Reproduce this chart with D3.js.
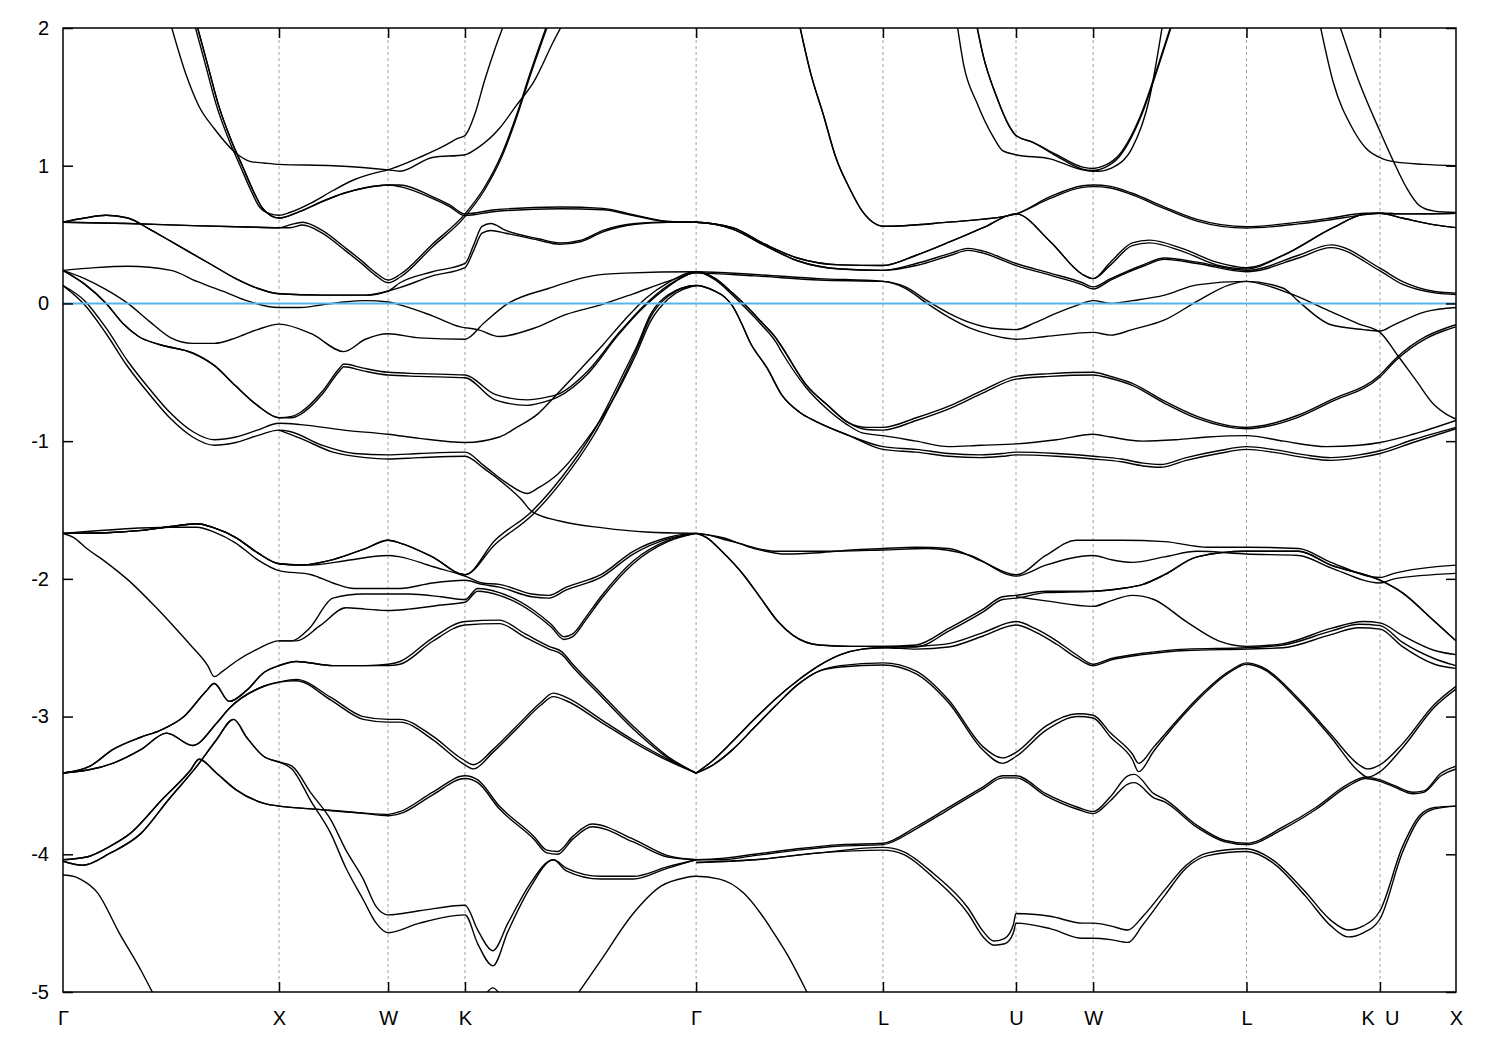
<!DOCTYPE html>
<html><head><meta charset="utf-8">
<script src="https://cdn.jsdelivr.net/npm/d3@7"></script>
<style>body{margin:0;background:#fff}svg{display:block}text{font-family:"Liberation Sans",Arial,sans-serif}</style>
</head><body>
<svg id="chart" width="1500" height="1050"></svg>
<script>
// ---- high-symmetry path (K|U is a path discontinuity, labelled once) ----
const kTicks  = [0, 1.0, 1.505, 1.861, 2.931, 3.796, 4.412, 4.769, 5.479, 6.097, 6.449];
const kLabels = ["Γ","X","W","K","Γ","L","U","W","L","K\u2002U","X"];
const gridK   = [1.0, 1.505, 1.861, 2.931, 3.796, 4.412, 4.769, 5.479, 6.097];
const yTicks  = [2, 1, 0, -1, -2, -3, -4, -5];
const fermiLevel = 0;

// ---- bands: [k, E(eV), split of twin line] ----
const T1 = [[0.50,2.02],[0.57,1.66],[0.63,1.43],[0.70,1.27],[0.81,1.08],[0.87,1.03],[0.93,1.02],[1.0,1.01],[1.25,1.0],[1.505,0.97],[1.56,0.96],[1.71,1.06],[1.861,1.08],[1.92,1.13],[2.02,1.27],[2.10,1.44],[2.18,1.61],[2.27,1.90],[2.31,2.02]];
const T2a = [[0.61,2.02],[0.66,1.73],[0.71,1.44],[0.77,1.18],[0.82,1.0],[0.87,0.82],[0.91,0.70],[0.96,0.65],[1.0,0.64],[1.05,0.66],[1.15,0.73],[1.25,0.82],[1.35,0.90],[1.45,0.95],[1.505,0.97],[1.56,1.0],[1.65,1.06],[1.76,1.14],[1.83,1.20],[1.861,1.22],[1.91,1.39],[1.95,1.61],[2.0,1.85],[2.04,2.02]];
const T2b = [[0.62,2.02],[0.67,1.73],[0.72,1.44],[0.78,1.18],[0.83,1.0],[0.88,0.82],[0.92,0.70],[0.96,0.64],[1.0,0.62],[1.1,0.67],[1.2,0.74],[1.3,0.80],[1.4,0.84],[1.505,0.86],[1.56,0.86,0.012],[1.71,0.775,0.012],[1.79,0.715,0.012],[1.861,0.65,0.012],[2.0,0.68,0.012],[2.3,0.70,0.012],[2.5,0.69,0.01],[2.65,0.64,0.005],[2.8,0.595,0],[2.931,0.59,0],[3.1,0.55,0],[3.25,0.43,0],[3.40,0.33,0],[3.60,0.28,0],[3.796,0.275,0],[3.95,0.35,0],[4.11,0.45,0],[4.26,0.55,0],[4.412,0.65,0],[4.57,0.45,0],[4.72,0.21,0],[4.769,0.18,0],[4.85,0.30,0.02],[4.95,0.44,0.02],[5.03,0.46,0.02],[5.18,0.40,0.02],[5.34,0.30,0.02],[5.479,0.26,0.01],[5.65,0.35,0],[5.88,0.55,0],[6.03,0.65,0],[6.097,0.655,0],[6.2,0.62,0],[6.35,0.57,0],[6.449,0.55,0]];
const T3 = [[0,0.59],[0.3,0.58],[0.6,0.565],[0.85,0.555],[1.0,0.55],[1.05,0.57,0.02],[1.11,0.59,0.02],[1.20,0.53,0.02],[1.31,0.40,0.02],[1.39,0.30,0.02],[1.45,0.22,0.02],[1.505,0.17,0.02],[1.56,0.21,0.02],[1.71,0.43,0.02],[1.861,0.65,0.02],[1.95,0.84,0.02],[2.03,1.08,0.02],[2.10,1.37,0.02],[2.16,1.66,0.02],[2.24,2.02,0.02]];
const T4 = [[0,0.59],[0.1,0.62],[0.2,0.64],[0.3,0.62],[0.4,0.54],[0.5,0.45],[0.6,0.36],[0.7,0.27],[0.8,0.18],[0.9,0.11],[1.0,0.07],[1.2,0.06],[1.4,0.06],[1.505,0.09],[1.56,0.15,0.035],[1.71,0.23,0.03],[1.861,0.29,0.03],[1.90,0.42,0.04],[1.94,0.56,0.05],[1.98,0.58,0.05],[2.05,0.53,0.02],[2.20,0.47,0.01],[2.30,0.44,0.01],[2.40,0.46,0.01],[2.50,0.53,0.01],[2.65,0.58,0.005],[2.80,0.59,0],[2.931,0.59,0],[3.1,0.54,0],[3.25,0.42,0],[3.40,0.31,0],[3.60,0.25,0],[3.796,0.24,0],[3.95,0.29,0.015],[4.11,0.365,0.015],[4.19,0.40,0.015],[4.26,0.38,0.015],[4.412,0.29,0.015],[4.57,0.22,0.015],[4.72,0.15,0.015],[4.769,0.12,0.015],[4.85,0.18,0.01],[5.0,0.28,0.01],[5.10,0.33,0.01],[5.25,0.30,0.01],[5.479,0.24,0.01],[5.72,0.35,0.02],[5.87,0.425,0.02],[6.097,0.256,0.02],[6.2,0.16,0.02],[6.35,0.087,0.01],[6.449,0.075,0.01]];
const G1 = [[0,0.24],[0.15,0.26],[0.3,0.27],[0.5,0.24],[0.62,0.16],[0.77,0.07],[0.85,0.02],[1.0,-0.03],[1.1,-0.03],[1.2,-0.01],[1.3,0.01],[1.4,0.02],[1.505,0.01],[1.56,-0.01],[1.71,-0.09],[1.84,-0.17],[1.92,-0.19],[2.02,-0.24],[2.18,-0.18],[2.33,-0.08],[2.49,-0.01],[2.64,0.07],[2.80,0.16],[2.931,0.22],[3.2,0.20],[3.5,0.17],[3.796,0.16],[3.90,0.12],[4.0,0.02],[4.1,-0.07],[4.2,-0.14],[4.3,-0.18],[4.412,-0.19],[4.50,-0.14],[4.6,-0.07],[4.7,-0.01],[4.769,0.02],[4.85,0.0],[4.95,0.02],[5.1,0.06],[5.25,0.135],[5.479,0.16],[5.65,0.11],[5.72,0.015],[5.87,-0.155],[6.02,-0.19],[6.097,-0.20],[6.162,-0.155],[6.31,-0.06],[6.449,-0.03]];
const G3 = [[0,0.24],[0.1,0.18],[0.2,0.10],[0.3,0.0],[0.4,-0.13],[0.5,-0.25],[0.6,-0.29],[0.7,-0.29],[0.8,-0.25],[0.9,-0.19],[1.0,-0.15],[1.15,-0.22],[1.3,-0.35],[1.4,-0.26],[1.505,-0.22],[1.65,-0.25],[1.861,-0.26],[1.95,-0.14],[2.05,-0.01],[2.25,0.11],[2.45,0.20],[2.6,0.22],[2.931,0.23],[3.2,0.21],[3.5,0.18],[3.796,0.16],[3.9,0.11],[4.0,0.0],[4.1,-0.10],[4.2,-0.18],[4.3,-0.23],[4.412,-0.26],[4.55,-0.24],[4.769,-0.21],[4.85,-0.23],[4.95,-0.19],[5.1,-0.12],[5.25,0.015],[5.40,0.135],[5.479,0.16],[5.55,0.14],[5.70,0.06],[5.87,-0.06],[6.0,-0.15],[6.097,-0.21],[6.18,-0.38],[6.26,-0.55],[6.35,-0.74],[6.40,-0.80],[6.449,-0.84]];
const H2 = [[0,0.24],[0.1,0.14],[0.2,0.0],[0.28,-0.15],[0.35,-0.24],[0.45,-0.30],[0.6,-0.36],[0.7,-0.45],[0.8,-0.60],[0.9,-0.74],[1.0,-0.83,0],[1.06,-0.82,0.01],[1.1,-0.79,0.015],[1.2,-0.64,0.02],[1.28,-0.47,0.02],[1.30,-0.44,0.02],[1.39,-0.47,0.02],[1.505,-0.50,0.02],[1.65,-0.51,0.02],[1.861,-0.52,0.02],[2.0,-0.66,0.04],[2.15,-0.70,0.04],[2.24,-0.68,0.03],[2.29,-0.66,0.02],[2.43,-0.49,0.02],[2.57,-0.22,0.01],[2.70,0.0,0.01],[2.80,0.13,0.01],[2.88,0.20,0],[2.931,0.23,0],[3.02,0.18,0],[3.10,0.075,0],[3.17,-0.03,0],[3.23,-0.13,0],[3.30,-0.25,0],[3.33,-0.32,0],[3.44,-0.59,0],[3.54,-0.74,0],[3.63,-0.86,0],[3.72,-0.90,0.015],[3.796,-0.90,0.02],[3.95,-0.83,0.02],[4.11,-0.74,0.02],[4.26,-0.63,0.02],[4.412,-0.53,0.02],[4.57,-0.51,0.02],[4.769,-0.50,0.02],[4.85,-0.53,0.015],[4.95,-0.58,0.015],[5.1,-0.71,0.015],[5.25,-0.82,0.015],[5.479,-0.90,0.01],[5.72,-0.81,0.015],[5.87,-0.70,0.015],[6.097,-0.52,0.015],[6.17,-0.40,0.015],[6.31,-0.24,0.015],[6.40,-0.18,0.015],[6.449,-0.155,0.015]];
const H1a = [[0,0.13],[0.1,0.02],[0.2,-0.18],[0.3,-0.42],[0.4,-0.62],[0.5,-0.80],[0.6,-0.93],[0.7,-0.99],[0.8,-0.97],[0.9,-0.92],[1.0,-0.87],[1.1,-0.88],[1.3,-0.92],[1.505,-0.95],[1.65,-0.98],[1.861,-1.01],[2.02,-0.97],[2.10,-0.90],[2.20,-0.80],[2.28,-0.67],[2.40,-0.47],[2.50,-0.30],[2.60,-0.12],[2.70,0.04],[2.80,0.15],[2.931,0.23],[3.02,0.17],[3.10,0.06],[3.17,-0.05],[3.23,-0.15],[3.30,-0.28],[3.33,-0.36],[3.44,-0.61],[3.54,-0.77],[3.63,-0.88],[3.70,-0.94],[3.796,-0.96],[3.95,-1.0],[4.1,-1.04],[4.25,-1.03],[4.412,-1.02],[4.6,-0.99],[4.769,-0.95],[4.85,-0.97],[5.0,-1.00],[5.15,-0.99],[5.3,-0.97],[5.479,-0.96],[5.65,-1.0],[5.85,-1.04],[6.0,-1.03],[6.097,-1.01],[6.25,-0.95],[6.449,-0.85]];
const H1b = [[0,0.13],[0.1,-0.01],[0.2,-0.22],[0.3,-0.46],[0.4,-0.66],[0.5,-0.84],[0.6,-0.97],[0.7,-1.03],[0.8,-1.01],[0.9,-0.96],[1.0,-0.92],[1.05,-0.93],[1.2,-1.03],[1.35,-1.09],[1.505,-1.10],[1.65,-1.09],[1.861,-1.08],[1.95,-1.18],[2.05,-1.30],[2.15,-1.38],[2.2,-1.34],[2.29,-1.24],[2.41,-1.02],[2.56,-0.66],[2.65,-0.38],[2.72,-0.13],[2.80,0.03],[2.931,0.13]];
const H1c = [[1.0,-0.92],[1.1,-0.98],[1.25,-1.08],[1.40,-1.12],[1.505,-1.13],[1.65,-1.12],[1.861,-1.11],[1.95,-1.20],[2.05,-1.32],[2.12,-1.42],[2.17,-1.51],[2.3,-1.58],[2.5,-1.63],[2.7,-1.66],[2.931,-1.67]];
const Phi1 = [[0,-1.67],[0.2,-1.665],[0.35,-1.65],[0.50,-1.62],[0.62,-1.60],[0.70,-1.63],[0.80,-1.70],[0.90,-1.81],[1.0,-1.89],[1.1,-1.90],[1.25,-1.86],[1.40,-1.78],[1.505,-1.72],[1.56,-1.74],[1.71,-1.84],[1.861,-1.97],[2.0,-1.72,0.03],[2.17,-1.51,0.03],[2.31,-1.26,0.03],[2.46,-0.92,0.03],[2.61,-0.46,0.03],[2.66,-0.30,0.02],[2.72,-0.08,0.02],[2.80,0.06,0.01],[2.931,0.13,0],[3.02,0.087],[3.06,0.05],[3.10,-0.02],[3.14,-0.14],[3.18,-0.28],[3.26,-0.47],[3.33,-0.67],[3.41,-0.79],[3.49,-0.86],[3.64,-0.96],[3.796,-1.04,0.02],[3.95,-1.06,0.02],[4.1,-1.09,0.02],[4.25,-1.10,0.02],[4.35,-1.09,0.02],[4.412,-1.08,0.02],[4.6,-1.09,0.02],[4.769,-1.11,0.02],[4.9,-1.13,0.02],[5.0,-1.16,0.02],[5.08,-1.17,0.02],[5.2,-1.12,0.02],[5.35,-1.07,0.02],[5.479,-1.04,0.02],[5.6,-1.06,0.02],[5.75,-1.10,0.02],[5.87,-1.12,0.02],[6.0,-1.10,0.02],[6.097,-1.07,0.02],[6.25,-0.99,0.02],[6.449,-0.90,0.01]];
const Phi2 = [[0,-1.67],[0.2,-1.665],[0.35,-1.65],[0.50,-1.62],[0.62,-1.60],[0.70,-1.63],[0.80,-1.70],[0.90,-1.81],[1.0,-1.89],[1.15,-1.90],[1.3,-1.87],[1.505,-1.83],[1.56,-1.84],[1.71,-1.91],[1.861,-1.98],[1.94,-2.03],[2.02,-2.04],[2.17,-2.11],[2.25,-2.12],[2.33,-2.06],[2.49,-1.97],[2.64,-1.80],[2.80,-1.70],[2.931,-1.67],[3.1,-1.73],[3.3,-1.80],[3.5,-1.80],[3.796,-1.79],[4.0,-1.78],[4.2,-1.83],[4.412,-1.98],[4.55,-1.90],[4.769,-1.83],[4.85,-1.86],[4.95,-1.88],[5.1,-1.84],[5.25,-1.80],[5.479,-1.82],[5.72,-1.83],[5.87,-1.92],[6.097,-2.03],[6.162,-2.0],[6.449,-1.96]];
const Phi3 = [[0,-1.67],[0.5,-1.625],[0.62,-1.625],[0.70,-1.66],[0.80,-1.74],[0.90,-1.86],[1.0,-1.94],[1.15,-1.97],[1.25,-2.03],[1.35,-2.07],[1.505,-2.07],[1.56,-2.07],[1.71,-2.03],[1.861,-2.01],[1.94,-2.04],[2.02,-2.06],[2.17,-2.13],[2.25,-2.14],[2.33,-2.08],[2.49,-1.99],[2.64,-1.82],[2.80,-1.71],[2.931,-1.67]];
const Gi = [[0,-1.67],[0.05,-1.70],[0.11,-1.78],[0.2,-1.88],[0.31,-2.02],[0.42,-2.19],[0.51,-2.34],[0.59,-2.48],[0.67,-2.63],[0.70,-2.71],[0.74,-2.67],[0.80,-2.60],[0.90,-2.51],[1.0,-2.45],[1.06,-2.45],[1.14,-2.36],[1.25,-2.14],[1.39,-2.11],[1.505,-2.11],[1.6,-2.11],[1.75,-2.13],[1.861,-2.15],[1.92,-2.07],[2.02,-2.10],[2.18,-2.23],[2.26,-2.33],[2.32,-2.42],[2.36,-2.40],[2.42,-2.28],[2.49,-2.13],[2.64,-1.87],[2.80,-1.72],[2.931,-1.67]];
const Gib = [[1.0,-2.45],[1.08,-2.45],[1.19,-2.34],[1.31,-2.21],[1.40,-2.22],[1.505,-2.23],[1.6,-2.22],[1.75,-2.19],[1.861,-2.17],[1.92,-2.09],[2.02,-2.12],[2.18,-2.25],[2.26,-2.35],[2.32,-2.44],[2.36,-2.42],[2.42,-2.30],[2.49,-2.15],[2.64,-1.89],[2.80,-1.73],[2.931,-1.67]];
const Gii = [[0,-3.41],[0.125,-3.36],[0.23,-3.24],[0.36,-3.15],[0.45,-3.10],[0.56,-3.0],[0.66,-2.82],[0.70,-2.76],[0.77,-2.89],[0.85,-2.81],[0.93,-2.68],[1.0,-2.63],[1.08,-2.60],[1.25,-2.63],[1.40,-2.63],[1.505,-2.62,0.01],[1.56,-2.60,0.02],[1.71,-2.43,0.025],[1.861,-2.31,0.025],[2.02,-2.30,0.025],[2.14,-2.40,0.025],[2.25,-2.49,0.02],[2.31,-2.53,0.02],[2.36,-2.62,0.02],[2.49,-2.83,0.02],[2.64,-3.07,0.02],[2.80,-3.29,0.01],[2.931,-3.41,0]];
const Giii = [[0,-3.41],[0.23,-3.34],[0.36,-3.24],[0.48,-3.12],[0.60,-3.21],[0.71,-3.05],[0.77,-2.94],[0.93,-2.78],[1.0,-2.75],[1.08,-2.73,0.01],[1.24,-2.86,0.02],[1.39,-3.0,0.02],[1.505,-3.02,0.02],[1.56,-3.02,0.02],[1.71,-3.14,0.025],[1.85,-3.31,0.03],[1.90,-3.35,0.03],[1.99,-3.24,0.02],[2.10,-3.07,0.02],[2.21,-2.90,0.02],[2.27,-2.83,0.025],[2.33,-2.86,0.025],[2.49,-3.02,0.02],[2.64,-3.17,0.015],[2.80,-3.31,0.01],[2.931,-3.41,0]];
const Giv = [[0,-4.04],[0.11,-4.02],[0.22,-3.94],[0.31,-3.85],[0.46,-3.60],[0.59,-3.39],[0.63,-3.31],[0.71,-3.41],[0.80,-3.53],[0.93,-3.63],[1.0,-3.65],[1.15,-3.67],[1.38,-3.70],[1.505,-3.71,0.01],[1.56,-3.69,0.015],[1.71,-3.55,0.02],[1.861,-3.43,0.02],[1.92,-3.46,0.02],[2.02,-3.65,0.02],[2.18,-3.87,0.02],[2.24,-3.97,0.02],[2.29,-3.98,0.02],[2.36,-3.87,0.02],[2.45,-3.78,0.02],[2.64,-3.89,0.02],[2.80,-4.01,0.01],[2.931,-4.04,0]];
const Gv = [[0,-4.05],[0.09,-4.08],[0.22,-3.99],[0.36,-3.85],[0.49,-3.60],[0.62,-3.36],[0.71,-3.17],[0.79,-3.02],[0.85,-3.15],[0.93,-3.29],[1.0,-3.33,0],[1.06,-3.36,0.02],[1.15,-3.56,0.06],[1.24,-3.75,0.10],[1.31,-3.97,0.13],[1.39,-4.18,0.15],[1.45,-4.38,0.12],[1.505,-4.44,0.13],[1.65,-4.41,0.09],[1.861,-4.37,0.07],[1.92,-4.55,0.10],[1.99,-4.70,0.11],[2.06,-4.50,0.06],[2.16,-4.22,0.03],[2.27,-4.04,0],[2.33,-4.10,0.02],[2.49,-4.16,0.02],[2.64,-4.16,0.02],[2.80,-4.09,0.01],[2.931,-4.04,0]];
const L1a = [[0,-4.15],[0.05,-4.16],[0.08,-4.18],[0.16,-4.28],[0.26,-4.57],[0.36,-4.84],[0.42,-5.02]];
const L1b = [[2.38,-5.02],[2.49,-4.77],[2.64,-4.43],[2.77,-4.23],[2.88,-4.17],[2.931,-4.16],[3.04,-4.18],[3.15,-4.28],[3.23,-4.43],[3.29,-4.57],[3.35,-4.72],[3.45,-5.02]];
const arcB = [[1.955,-5.02],[1.99,-4.97],[2.025,-5.02]];
const S6 = [[3.41,2.02],[3.46,1.68],[3.52,1.37],[3.58,1.05],[3.64,0.84],[3.70,0.67],[3.77,0.57],[3.796,0.56],[4.1,0.59],[4.25,0.61],[4.412,0.65],[4.57,0.775,0.012],[4.72,0.855,0.012],[4.769,0.86,0.012],[4.85,0.85,0.012],[4.95,0.80,0.012],[5.10,0.70,0.012],[5.25,0.61,0.012],[5.479,0.557,0.01],[5.72,0.59,0.012],[5.87,0.62,0.012],[6.03,0.655,0.01],[6.097,0.655,0],[6.2,0.65,0],[6.449,0.655,0]];
const S7 = [[4.14,2.02],[4.17,1.73],[4.23,1.46],[4.31,1.20],[4.35,1.11],[4.412,1.08],[4.57,1.05],[4.72,0.97],[4.769,0.96],[4.80,0.96],[4.85,0.98],[4.95,1.13],[5.03,1.49],[5.09,2.02]];
const S8 = [[4.23,2.02],[4.26,1.80],[4.32,1.51],[4.38,1.29],[4.412,1.22],[4.49,1.17],[4.60,1.08,0.01],[4.72,0.99,0.015],[4.769,0.98,0.015],[4.82,1.0,0.015],[4.89,1.08,0.015],[4.99,1.37,0.015],[5.07,1.73,0.015],[5.13,2.02,0.015]];
const RS1 = [[5.82,2.02],[5.88,1.61],[5.97,1.27],[6.03,1.13],[6.11,1.05],[6.16,1.03],[6.30,1.01],[6.449,1.0]];
const RS2 = [[5.91,2.02],[6.0,1.61],[6.097,1.25],[6.16,1.03],[6.22,0.84],[6.28,0.71],[6.35,0.67],[6.449,0.66]];
const Om1 = [[2.931,-1.67],[3.05,-1.70],[3.2,-1.78],[3.35,-1.82],[3.5,-1.81],[3.65,-1.79],[3.796,-1.78],[3.95,-1.77],[4.1,-1.78],[4.25,-1.87],[4.412,-1.97],[4.55,-1.83],[4.69,-1.72],[4.769,-1.72],[4.9,-1.72],[5.1,-1.73],[5.30,-1.77],[5.479,-1.77],[5.72,-1.78],[5.87,-1.88],[6.097,-1.99],[6.162,-1.96],[6.449,-1.90]];
const Sig1 = [[2.931,-1.67],[2.98,-1.70],[3.05,-1.80],[3.15,-1.97],[3.23,-2.14],[3.31,-2.31],[3.38,-2.41],[3.50,-2.48],[3.65,-2.49],[3.796,-2.49],[3.95,-2.48,0.015],[4.1,-2.36,0.02],[4.26,-2.22,0.02],[4.35,-2.13,0.02],[4.412,-2.12,0.02],[4.55,-2.09,0.01],[4.769,-2.09,0],[4.9,-2.07],[5.0,-2.04],[5.1,-1.97],[5.25,-1.84],[5.479,-1.80],[5.72,-1.80],[5.87,-1.90],[6.097,-2.01],[6.2,-2.10],[6.33,-2.28],[6.449,-2.45]];
const Om4 = [[4.412,-2.13],[4.55,-2.16],[4.769,-2.20],[4.85,-2.16],[4.95,-2.12],[5.05,-2.15],[5.2,-2.31],[5.35,-2.45],[5.479,-2.49],[5.65,-2.47],[5.87,-2.36],[6.02,-2.31],[6.097,-2.32],[6.2,-2.41],[6.35,-2.52],[6.449,-2.55]];
const Sig2 = [[2.931,-3.41],[3.0,-3.33],[3.1,-3.18],[3.2,-3.02],[3.3,-2.87],[3.4,-2.74],[3.5,-2.63],[3.6,-2.55],[3.7,-2.51],[3.796,-2.50],[3.95,-2.49,0.02],[4.1,-2.47,0.025],[4.26,-2.39,0.025],[4.412,-2.31,0.025],[4.5,-2.36,0.025],[4.6,-2.45,0.025],[4.7,-2.56,0.02],[4.769,-2.62,0.01],[4.85,-2.58,0.01],[5.0,-2.54,0.01],[5.2,-2.51,0.01],[5.479,-2.50,0.01],[5.65,-2.48,0.02],[5.87,-2.38,0.025],[6.0,-2.33,0.025],[6.097,-2.34,0.025],[6.2,-2.46,0.03],[6.35,-2.58,0.04],[6.449,-2.63,0.02]];
const Sig3 = [[2.931,-3.41],[3.0,-3.36],[3.1,-3.24],[3.2,-3.08],[3.3,-2.92],[3.4,-2.77],[3.5,-2.67],[3.6,-2.63,0.01],[3.796,-2.61,0.015],[3.95,-2.67,0.02],[4.1,-2.88,0.02],[4.26,-3.22,0.025],[4.35,-3.30,0.04],[4.412,-3.26,0.03],[4.55,-3.07,0.03],[4.70,-2.98,0.02],[4.769,-2.99,0.02],[4.85,-3.12,0.03],[4.95,-3.27,0.04],[4.98,-3.34,0.06],[5.05,-3.22,0.03],[5.1,-3.13,0.02],[5.25,-2.87,0.015],[5.40,-2.67,0.01],[5.479,-2.61,0.01],[5.55,-2.64,0.01],[5.72,-2.87,0.015],[5.87,-3.13,0.02],[6.0,-3.35,0.05],[6.04,-3.38,0.06],[6.097,-3.35,0.05],[6.2,-3.20,0.03],[6.35,-2.91,0.02],[6.449,-2.78,0.02]];
const Pi1 = [[2.931,-4.04],[3.05,-4.03,0.01],[3.2,-4.0,0.01],[3.4,-3.96,0.01],[3.6,-3.93,0.01],[3.796,-3.92,0.01],[3.95,-3.80,0.015],[4.1,-3.66,0.015],[4.26,-3.51,0.015],[4.35,-3.43,0.015],[4.412,-3.43,0.015],[4.55,-3.56,0.015],[4.70,-3.66,0.015],[4.769,-3.69,0.015],[4.85,-3.58,0.03],[4.93,-3.43,0.06],[4.96,-3.42,0.06],[5.05,-3.56,0.03],[5.1,-3.60,0.02],[5.25,-3.79,0.015],[5.38,-3.90,0.01],[5.479,-3.92,0.01],[5.65,-3.80,0.015],[5.80,-3.66,0.015],[5.95,-3.49,0.015],[6.03,-3.44,0.01],[6.097,-3.46,0.01],[6.162,-3.50,0.01],[6.25,-3.55,0.01],[6.30,-3.54,0.01],[6.38,-3.41,0.02],[6.449,-3.36,0.02]];
const Pi2 = [[2.931,-4.06],[3.2,-4.04],[3.5,-3.99],[3.796,-3.95,0.02],[3.89,-3.98,0.02],[4.03,-4.14,0.03],[4.19,-4.39,0.04],[4.26,-4.56,0.04],[4.31,-4.63,0.03],[4.36,-4.61,0.04],[4.40,-4.51,0.06],[4.412,-4.43,0.07],[4.57,-4.45,0.09],[4.72,-4.50,0.11],[4.769,-4.50,0.11],[4.85,-4.52,0.10],[4.93,-4.55,0.09],[5.0,-4.45,0.06],[5.1,-4.26,0.04],[5.2,-4.08,0.02],[5.3,-3.99,0.02],[5.479,-3.96,0.02],[5.6,-4.04,0.02],[5.75,-4.27,0.03],[5.87,-4.48,0.04],[5.95,-4.55,0.05],[6.02,-4.52,0.05],[6.097,-4.41,0.06],[6.2,-3.95,0.04],[6.28,-3.72,0.02],[6.35,-3.66,0.01],[6.449,-3.65,0]];

const bands = [T1,T2a,T2b,T3,T4,G1,G3,H2,H1a,H1b,H1c,Phi1,Phi2,Phi3,Gi,Gib,Gii,Giii,Giv,Gv,L1a,L1b,arcB,S6,S7,S8,RS1,RS2,Om1,Sig1,Om4,Sig2,Sig3,Pi1,Pi2];

// ---- drawing ----
const W = 1500, H = 1050;
const m = {left: 63, right: 44, top: 28, bottom: 58};
const svg = d3.select("#chart");
const x = d3.scaleLinear().domain([kTicks[0], kTicks[kTicks.length-1]]).range([m.left, W - m.right]);
const y = d3.scaleLinear().domain([-5, 2]).range([H - m.bottom, m.top]);

svg.append("defs").append("clipPath").attr("id","plot")
  .append("rect").attr("x", m.left).attr("y", m.top)
  .attr("width", x.range()[1]-m.left).attr("height", y.range()[0]-m.top);

// grid lines
svg.append("g").selectAll("line").data(gridK).join("line")
  .attr("x1", d => x(d)).attr("x2", d => x(d))
  .attr("y1", y(2)).attr("y2", y(-5))
  .attr("stroke", "#a0a0a0").attr("stroke-width", 1).attr("stroke-dasharray", "3,3");

const line = d3.line().x(d => x(d[0])).y(d => y(d[1])).curve(d3.curveMonotoneX);
const twinLine = d3.line().x(d => x(d[0])).y(d => y(d[1] - (d[2] || 0))).curve(d3.curveMonotoneX);

const gb = svg.append("g").attr("clip-path", "url(#plot)")
  .attr("fill", "none").attr("stroke", "#000").attr("stroke-width", 1.4).attr("stroke-linejoin","round");
bands.forEach(b => {
  gb.append("path").attr("d", line(b));
  if (b.some(p => p[2])) gb.append("path").attr("d", twinLine(b));
});

// Fermi level
svg.append("line").attr("x1", x.range()[0]).attr("x2", x.range()[1])
  .attr("y1", y(fermiLevel)).attr("y2", y(fermiLevel))
  .attr("stroke", "#56B4E9").attr("stroke-width", 2);

// axes (inward ticks)
const fontSize = 20;
const ax = svg.append("g");
ax.append("g").attr("transform", `translate(${m.left},0)`)
  .call(d3.axisLeft(y).tickValues(yTicks).tickSize(-10).tickPadding(14).tickFormat(d => String(d)));
ax.append("g").attr("transform", `translate(${x.range()[1]},0)`)
  .call(d3.axisRight(y).tickValues(yTicks).tickSize(-10).tickFormat(""));
ax.append("g").attr("transform", `translate(0,${y(-5)})`)
  .call(d3.axisBottom(x).tickValues(gridK).tickSize(-10).tickFormat(""));
ax.append("g").attr("transform", `translate(0,${y(2)})`)
  .call(d3.axisTop(x).tickValues(gridK).tickSize(-10).tickFormat(""));
ax.append("g").attr("transform", `translate(0,${y(-5)})`)
  .call(d3.axisBottom(x).tickValues(kTicks).tickSize(0).tickPadding(19).tickFormat((d,i) => kLabels[i]));
ax.selectAll(".domain").remove();
ax.selectAll(".tick line").attr("stroke", "#000").attr("stroke-width", 1.5);
ax.selectAll("g").attr("font-size", null).attr("font-family", null);
ax.selectAll("text").attr("fill", "#000")
  .style("font-size", fontSize + "px")
  .style("font-family", '"Liberation Sans", Arial, sans-serif');

// frame
svg.append("rect").attr("x", m.left).attr("y", m.top)
  .attr("width", x.range()[1]-m.left).attr("height", y.range()[0]-m.top)
  .attr("fill", "none").attr("stroke", "#000").attr("stroke-width", 1.5);
</script>
</body></html>
